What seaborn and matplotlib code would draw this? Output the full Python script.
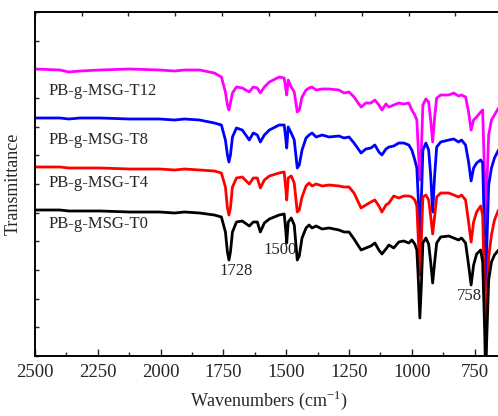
import numpy as np
import pandas as pd
import matplotlib
matplotlib.use("Agg")
import matplotlib.pyplot as plt
import seaborn as sns
from matplotlib.ticker import MultipleLocator

# FTIR spectra, values (transmittance in arbitrary units, stacked)
wavenumber = [2500, 2401, 2365, 2321, 2242, 2123, 2004, 1944, 1905, 1845,
              1786, 1758, 1742, 1734, 1728, 1722, 1714, 1698, 1675, 1647,
              1631, 1615, 1603, 1587, 1567, 1528, 1508, 1502, 1498, 1492,
              1480, 1468, 1456, 1448, 1437, 1421, 1409, 1397, 1381, 1357,
              1329, 1290, 1270, 1250, 1230, 1202, 1183, 1163, 1147, 1131,
              1119, 1103, 1091, 1072, 1052, 1032, 1012, 1000, 988, 980,
              974, 968, 962, 956, 944, 933, 925, 917, 909, 901,
              885, 853, 833, 814, 802, 786, 774, 764, 754, 742,
              726, 718, 710, 706, 702, 694, 683, 671, 655]

t0 = [146, 146, 145, 145, 145, 144, 144, 143, 144, 143,
      141, 139, 124, 104, 96, 104, 124, 134, 135, 130,
      134, 134, 124, 133, 137, 141, 142, 126, 113, 134,
      138, 131, 96, 100, 118, 128, 131, 128, 130, 127,
      128, 126, 124, 124, 117, 106, 108, 110, 113, 106,
      102, 107, 111, 108, 114, 115, 113, 116, 112, 106,
      76, 38, 71, 113, 118, 112, 94, 73, 94, 113,
      119, 120, 118, 116, 118, 113, 91, 71, 91, 102,
      106, 94, 26, -24, 16, 76, 94, 101, 106]

t4 = [189, 189, 188, 188, 188, 187, 187, 186, 187, 186,
      185, 183, 169, 148, 141, 148, 169, 178, 179, 172,
      178, 178, 168, 176, 180, 183, 184, 168, 156, 178,
      180, 173, 144, 146, 159, 170, 173, 170, 172, 170,
      171, 170, 169, 169, 163, 148, 151, 154, 156, 150,
      144, 151, 153, 160, 158, 160, 160, 159, 156, 150,
      116, 81, 116, 159, 161, 156, 140, 122, 140, 159,
      163, 163, 161, 159, 161, 156, 134, 114, 134, 144,
      150, 141, 56, 6, 46, 99, 121, 136, 146]

t8 = [238, 238, 237, 238, 238, 237, 237, 236, 237, 236,
      233, 231, 216, 201, 194, 201, 219, 228, 226, 216,
      223, 221, 214, 221, 226, 231, 231, 218, 208, 229,
      223, 216, 188, 191, 206, 218, 221, 223, 219, 221,
      219, 220, 218, 219, 213, 203, 207, 208, 211, 204,
      201, 207, 209, 210, 213, 213, 211, 206, 196, 188,
      156, 116, 156, 206, 213, 206, 181, 144, 181, 209,
      214, 216, 217, 214, 216, 211, 194, 175, 188, 193,
      196, 193, 116, 66, 106, 171, 188, 198, 206]

t12 = [287, 286, 284, 285, 286, 287, 286, 285, 286, 286,
       283, 279, 264, 251, 246, 253, 263, 269, 268, 264,
       269, 268, 263, 269, 274, 279, 278, 268, 261, 276,
       269, 264, 244, 246, 259, 266, 268, 269, 266, 267,
       267, 266, 263, 264, 259, 249, 253, 253, 256, 251,
       246, 252, 249, 251, 253, 252, 253, 246, 241, 236,
       206, 176, 206, 251, 257, 254, 236, 214, 239, 258,
       261, 261, 263, 260, 261, 259, 244, 226, 236, 239,
       244, 246, 176, 126, 166, 221, 236, 241, 248]

samples = ["PB-g-MSG-T12", "PB-g-MSG-T8", "PB-g-MSG-T4", "PB-g-MSG-T0"]
colors = ["#ff00ff", "#0000ff", "#ff0000", "#000000"]
peaks = ["1728", "1500", "758"]
peak_pos = [(1700, 85), (1525, 106), (769, 60)]
label_y = [265, 216, 173, 132]

frames = []
for name, vals in zip(samples, [t12, t8, t4, t0]):
    frames.append(pd.DataFrame({"wn": wavenumber, "T": vals, "sample": name}))
df = pd.concat(frames, ignore_index=True)

sns.set_style("ticks")
plt.rcParams["font.family"] = ["Liberation Serif", "DejaVu Serif"]
plt.rcParams["mathtext.fontset"] = "custom"
plt.rcParams["mathtext.rm"] = "Liberation Serif"

fig = plt.figure(figsize=(4.98, 4.16), dpi=100)
ax = fig.add_axes([35 / 498, 60 / 416, 467 / 498, 344 / 416])

sns.lineplot(data=df, x="wn", y="T", hue="sample", hue_order=samples,
             palette=dict(zip(samples, colors)), estimator=None, sort=False,
             linewidth=2.0, legend=False, ax=ax)

ax.set_xlim(2500, 641)
ax.set_ylim(0, 344)
ax.xaxis.set_major_locator(MultipleLocator(250))
ax.xaxis.set_minor_locator(MultipleLocator(125))
ax.yaxis.set_major_locator(MultipleLocator(344 / 12))
ax.set_yticklabels([])
ax.tick_params(axis="x", which="major", direction="in", length=5, width=1, labelsize=13.5, pad=6)
ax.tick_params(axis="x", which="minor", direction="in", length=3, width=1)
ax.tick_params(axis="y", which="major", direction="in", length=3, width=1, left=True)

ax2 = ax.twiny()
ax2.set_xlim(0, 10)
ax2.set_xticks(range(11))
ax2.tick_params(axis="x", direction="in", length=3, width=1, labeltop=False)

for a in (ax, ax2):
    for s in a.spines.values():
        s.set_linewidth(1.2)
        s.set_color("black")

ax.set_xlabel(r"Wavenumbers (cm$^{\mathrm{-1}}$)", fontsize=13, labelpad=5)
ax.set_ylabel("Transmittance", fontsize=13, labelpad=6)

for name, y in zip(samples, label_y):
    ax.text(2448, y, name, fontsize=12, ha="left", va="center")
for txt, (x, y) in zip(peaks, peak_pos):
    ax.text(x, y, txt, fontsize=12, ha="center", va="center")

fig.savefig("out.png", dpi=100)
